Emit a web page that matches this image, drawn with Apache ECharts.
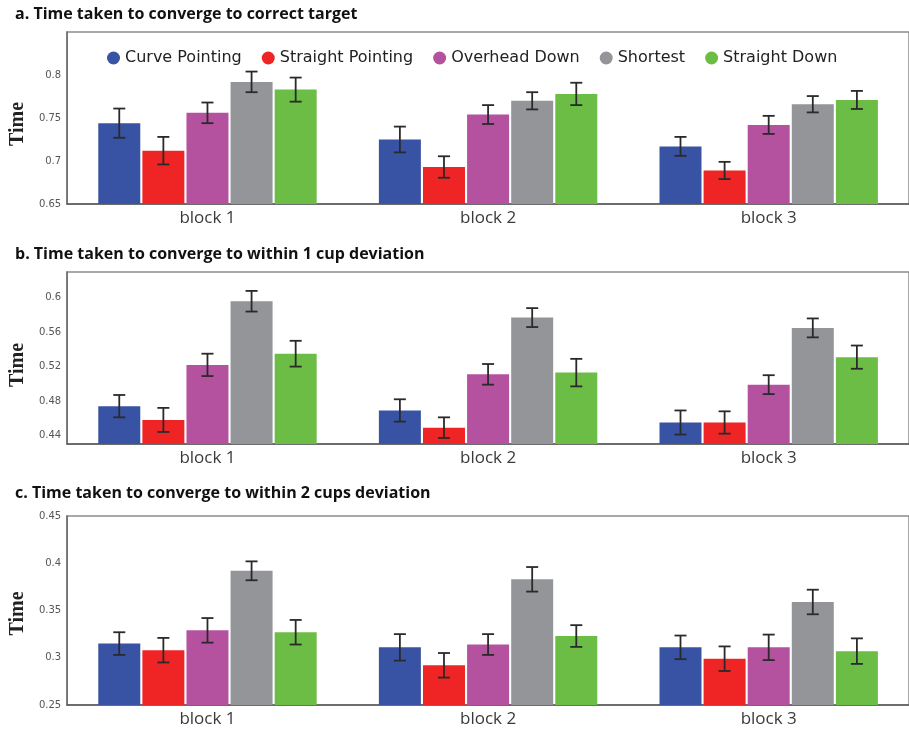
<!DOCTYPE html>
<html>
<head>
<meta charset="utf-8">
<script src="https://cdn.jsdelivr.net/npm/echarts@6/dist/echarts.min.js"></script>
<style>
  html, body { margin: 0; padding: 0; background: #fff; }
  #chart { width: 909px; height: 731px; }
</style>
</head>
<body>
<div id="chart"></div>
<script>
// Conditions compared in every panel
const conditions = ['Curve Pointing', 'Straight Pointing', 'Overhead Down', 'Shortest', 'Straight Down'];
const blocks = ['block 1', 'block 2', 'block 3'];
const colors = ['#3953a4', '#ee2524', '#b5529f', '#939598', '#6cbd45'];

// Panel a: time to converge to the correct target (mean per block, one row per condition)
const correctMean = [
  [0.744, 0.725, 0.717],
  [0.712, 0.693, 0.689],
  [0.756, 0.754, 0.742],
  [0.792, 0.770, 0.766],
  [0.783, 0.778, 0.771]
];
const correctErr = [
  [0.017, 0.015, 0.011],
  [0.016, 0.0125, 0.010],
  [0.012, 0.011, 0.0105],
  [0.012, 0.010, 0.0095],
  [0.014, 0.013, 0.0105]
];

// Panel b: time to converge within 1 cup deviation
const oneCupMean = [
  [0.474, 0.469, 0.455],
  [0.458, 0.449, 0.455],
  [0.522, 0.511, 0.499],
  [0.596, 0.577, 0.565],
  [0.535, 0.513, 0.531]
];
const oneCupErr = [
  [0.013, 0.013, 0.014],
  [0.014, 0.012, 0.013],
  [0.013, 0.012, 0.011],
  [0.012, 0.011, 0.011],
  [0.015, 0.016, 0.0135]
];

// Panel c: time to converge within 2 cups deviation
const twoCupMean = [
  [0.315, 0.311, 0.311],
  [0.308, 0.292, 0.299],
  [0.329, 0.314, 0.311],
  [0.392, 0.383, 0.359],
  [0.327, 0.323, 0.307]
];
const twoCupErr = [
  [0.012, 0.014, 0.0125],
  [0.013, 0.013, 0.013],
  [0.013, 0.011, 0.0135],
  [0.010, 0.013, 0.013],
  [0.013, 0.0115, 0.0135]
];

// Axis ranges and labelled ticks
const ticksA = [0.65, 0.7, 0.75, 0.8];
const ticksB = [0.44, 0.48, 0.52, 0.56, 0.6];
const ticksC = [0.25, 0.3, 0.35, 0.4, 0.45];

const panelTitles = [
  'a. Time taken to converge to correct target',
  'b. Time taken to converge to within 1 cup deviation',
  'c. Time taken to converge to within 2 cups deviation'
];

const panels = [
  { mean: correctMean, err: correctErr, min: 0.65, max: 0.85, ticks: ticksA },
  { mean: oneCupMean, err: oneCupErr, min: 0.43, max: 0.63, ticks: ticksB },
  { mean: twoCupMean, err: twoCupErr, min: 0.25, max: 0.45, ticks: ticksC }
];

// Layout
const grids = [
  { left: 58, top: 32, width: 855, height: 172 },
  { left: 60, top: 272, width: 854, height: 172 },
  { left: 61.5, top: 516, width: 854, height: 189 }
];
const titleTops = [1, 241, 480];
const namePad = [12, 14, 6];
const BAR_W = 42;
const GAP = 2.1;

function fmt(v) { return String(+v.toFixed(3)); }

const option = {
  backgroundColor: '#fff',
  animation: false,
  title: panelTitles.map((t, i) => ({
    text: t,
    left: 10,
    top: titleTops[i],
    textStyle: { fontFamily: 'Open Sans', fontWeight: 'bold', fontSize: 16, color: '#111' }
  })),
  legend: {
    data: conditions,
    left: 102,
    top: 45,
    icon: 'circle',
    itemWidth: 13,
    itemHeight: 13,
    itemGap: 20,
    textStyle: { fontFamily: 'DejaVu Sans', fontSize: 16, color: '#222' }
  },
  grid: grids.map(g => Object.assign({
    show: true, borderColor: '#8c8c8c', borderWidth: 1.5, backgroundColor: 'transparent'
  }, g)),
  xAxis: panels.map((p, i) => ({
    type: 'category',
    gridIndex: i,
    data: blocks,
    axisLine: { lineStyle: { color: '#5a5a5a', width: 1.5 } },
    axisTick: { show: false },
    axisLabel: { fontFamily: 'Open Sans', fontSize: 17, color: '#3a3a3a', margin: 6 }
  })),
  yAxis: panels.map((p, i) => ({
    type: 'value',
    gridIndex: i,
    min: p.min,
    max: p.max,
    name: 'Time',
    nameLocation: 'middle',
    nameRotate: 90,
    nameGap: 33,
    nameTextStyle: { fontFamily: 'Liberation Serif', fontWeight: 'bold', fontSize: 20, color: '#222', padding: [0, namePad[i], 0, 0] },
    splitLine: { show: false },
    axisLine: { show: true, lineStyle: { color: '#6a6a6a', width: 1.5 } },
    axisTick: { show: false },
    axisLabel: {
      customValues: p.ticks,
      formatter: fmt,
      fontFamily: 'DejaVu Sans',
      fontSize: 10,
      color: '#555',
      margin: 6
    }
  })),
  series: []
};

panels.forEach((p, pi) => {
  conditions.forEach((name, si) => {
    option.series.push({
      name: name,
      type: 'bar',
      xAxisIndex: pi,
      yAxisIndex: pi,
      barWidth: BAR_W,
      barGap: (GAP / BAR_W * 100) + '%',
      itemStyle: { color: colors[si] },
      data: p.mean[si]
    });
  });
  conditions.forEach((name, si) => {
    const offset = (si - 2) * (BAR_W + GAP);
    option.series.push({
      type: 'custom',
      xAxisIndex: pi,
      yAxisIndex: pi,
      z: 5,
      silent: true,
      data: p.mean[si].map((m, k) => [k, m - p.err[si][k], m + p.err[si][k]]),
      renderItem: function (params, api) {
        const lo = api.coord([api.value(0), api.value(1)]);
        const hi = api.coord([api.value(0), api.value(2)]);
        const x = lo[0] + offset;
        const cap = 6;
        const style = { stroke: '#2a2a2a', lineWidth: 1.8 };
        return {
          type: 'group',
          children: [
            { type: 'line', shape: { x1: x, y1: lo[1], x2: x, y2: hi[1] }, style: style },
            { type: 'line', shape: { x1: x - cap, y1: lo[1], x2: x + cap, y2: lo[1] }, style: style },
            { type: 'line', shape: { x1: x - cap, y1: hi[1], x2: x + cap, y2: hi[1] }, style: style }
          ]
        };
      }
    });
  });
});

const chart = echarts.init(document.getElementById('chart'), null, { renderer: 'canvas' });
chart.setOption(option);
</script>
</body>
</html>
